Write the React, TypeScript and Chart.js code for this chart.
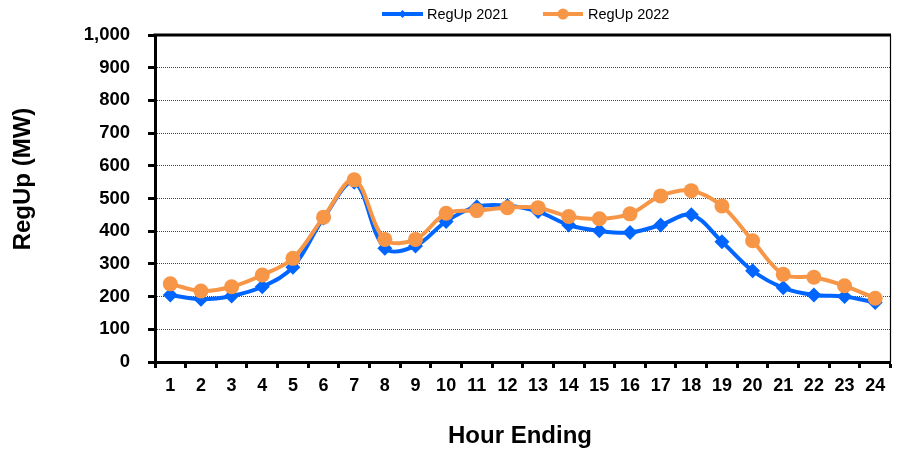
import React, { useEffect, useRef } from "react";
import { Chart, registerables } from "chart.js";

Chart.register(...registerables);

const hours = ["1","2","3","4","5","6","7","8","9","10","11","12","13","14","15","16","17","18","19","20","21","22","23","24"];
const regUp2021 = [205,192,202,230,290,440,550,348,355,430,475,478,460,419,401,396,419,450,368,279,227,205,200,182];
const regUp2022 = [239,217,230,266,317,443,557,375,375,455,463,472,472,445,438,453,508,524,477,371,268,259,233,195];
const seriesLabels = ["RegUp 2021", "RegUp 2022"];
const yTitle = "RegUp (MW)";
const xTitle = "Hour Ending";

const BLUE = "#0066FF";
const ORANGE = "#F79646";
const FONT = "'Liberation Sans', Arial, sans-serif";

const decorPlugin = {
  id: "decor",
  afterDraw(chart: any) {
    const { ctx, chartArea } = chart;
    ctx.save();
    ctx.strokeStyle = "#000";
    ctx.lineWidth = 3;
    ctx.beginPath();
    ctx.moveTo(chartArea.left - 1.5, chartArea.top);
    ctx.lineTo(chartArea.right + 0.5, chartArea.top);
    ctx.stroke();
    ctx.lineWidth = 1.2;
    ctx.beginPath();
    ctx.moveTo(chartArea.right, chartArea.top);
    ctx.lineTo(chartArea.right, chartArea.bottom);
    ctx.stroke();

    ctx.fillStyle = "#000";
    ctx.font = `bold 24px ${FONT}`;
    ctx.textAlign = "center";
    ctx.textBaseline = "alphabetic";
    ctx.fillText(xTitle, 520, 443);
    ctx.save();
    ctx.translate(30, 179);
    ctx.rotate(-Math.PI / 2);
    ctx.fillText(yTitle, 0, 0);
    ctx.restore();

    const items = [
      { x0: 382, x1: 423, tx: 427, color: BLUE, shape: "diamond", label: chart.data.datasets[0].label },
      { x0: 543, x1: 583, tx: 588, color: ORANGE, shape: "circle", label: chart.data.datasets[1].label },
    ];
    const ly = 14;
    for (const it of items) {
      ctx.strokeStyle = it.color;
      ctx.fillStyle = it.color;
      ctx.lineWidth = 4;
      ctx.beginPath();
      ctx.moveTo(it.x0, ly);
      ctx.lineTo(it.x1, ly);
      ctx.stroke();
      const cx = (it.x0 + it.x1) / 2;
      ctx.beginPath();
      if (it.shape === "diamond") {
        const r = 4;
        ctx.moveTo(cx, ly - r);
        ctx.lineTo(cx + r, ly);
        ctx.lineTo(cx, ly + r);
        ctx.lineTo(cx - r, ly);
        ctx.closePath();
      } else {
        ctx.arc(cx, ly, 5.5, 0, Math.PI * 2);
      }
      ctx.fill();
      ctx.fillStyle = "#000";
      ctx.font = `14.5px ${FONT}`;
      ctx.textAlign = "left";
      ctx.textBaseline = "middle";
      ctx.fillText(it.label, it.tx, ly + 1);
    }
    ctx.restore();
  },
};

export default function App() {
  const ref = useRef<HTMLCanvasElement | null>(null);
  useEffect(() => {
    if (!ref.current) return;
    const chart = new Chart(ref.current, {
      type: "line",
      data: {
        labels: hours,
        datasets: [
          {
            label: seriesLabels[0],
            data: regUp2021,
            borderColor: BLUE,
            backgroundColor: BLUE,
            borderWidth: 4,
            pointStyle: "rectRot",
            pointRadius: 7.5,
            pointBorderWidth: 0,
            tension: 0.35,
            order: 1,
          },
          {
            label: seriesLabels[1],
            data: regUp2022,
            borderColor: ORANGE,
            backgroundColor: ORANGE,
            borderWidth: 4,
            pointStyle: "circle",
            pointRadius: 7.5,
            pointBorderWidth: 0,
            tension: 0.35,
            order: 0,
          },
        ],
      },
      options: {
        animation: false,
        responsive: false,
        devicePixelRatio: 1,
        layout: { padding: { top: 35, right: 4, left: 0, bottom: 0 } },
        plugins: { legend: { display: false }, tooltip: { enabled: false } },
        scales: {
          x: {
            offset: true,
            afterFit: (s: any) => { s.height = 92; },
            grid: {
              offset: true,
              drawOnChartArea: false,
              drawTicks: true,
              tickLength: 6,
              tickWidth: 3,
              tickColor: "#000",
            },
            border: { color: "#000", width: 3 },
            ticks: {
              color: "#000",
              padding: 7,
              maxRotation: 0,
              autoSkip: false,
              font: { family: FONT, size: 18, weight: "bold" },
            },
          },
          y: {
            min: 0,
            max: 1000,
            afterFit: (s: any) => { s.width = 155; },
            grid: {
              color: "#444",
              lineWidth: 1,
              drawTicks: true,
              tickLength: 7,
              tickWidth: 3,
              tickColor: "#000",
            },
            border: { color: "#000", width: 3, dash: [1, 1] },
            ticks: {
              stepSize: 100,
              color: "#000",
              padding: 18,
              font: { family: FONT, size: 18.5, weight: "bold" },
              callback: (v: any) => Number(v).toLocaleString("en-US"),
            },
          },
        },
      },
      plugins: [decorPlugin],
    });
    return () => chart.destroy();
  }, []);
  return (
    <div style={{ position: "absolute", left: 0, top: 0, width: 898, height: 454, background: "#fff" }}>
      <canvas ref={ref} width={898} height={454} style={{ display: "block" }} />
    </div>
  );
}
